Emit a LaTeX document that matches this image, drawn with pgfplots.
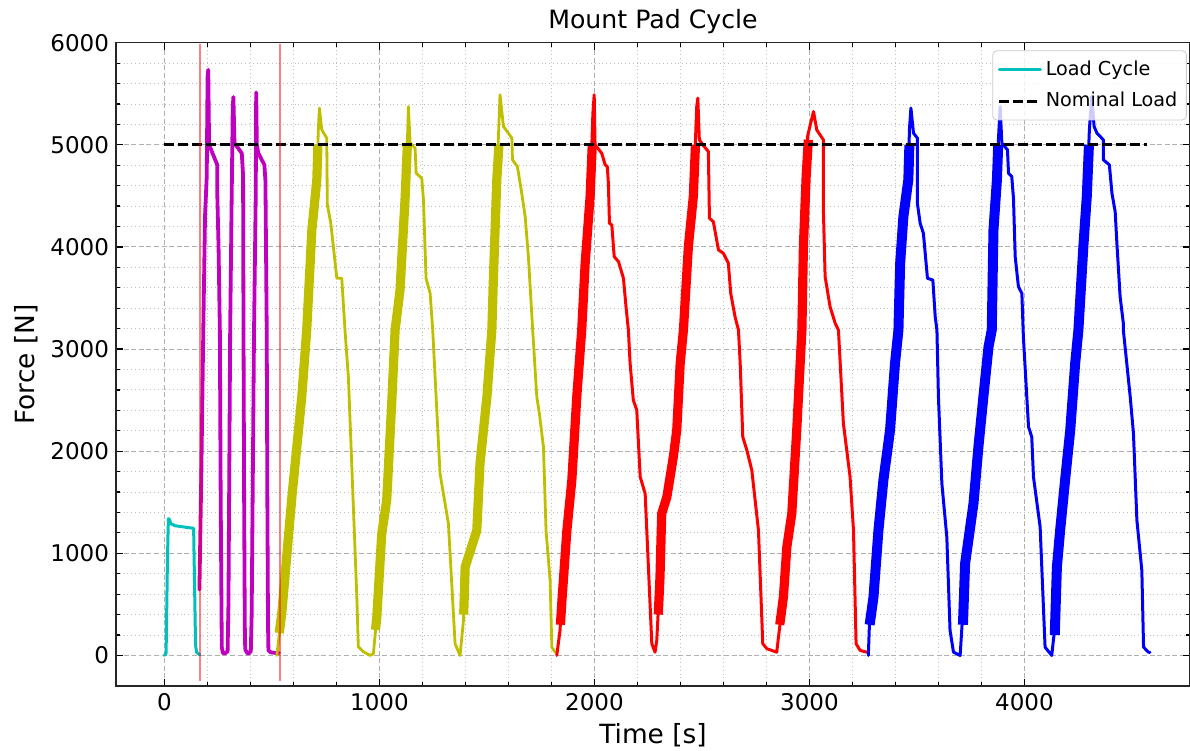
\documentclass[border=0pt]{standalone}
\usepackage{fontspec}
\setmainfont{DejaVu Sans}
\usepackage{pgfplots}
\pgfplotsset{compat=1.18}
\definecolor{mc}{rgb}{0,0.75,0.75}
\definecolor{mm}{rgb}{0.75,0,0.75}
\definecolor{my}{rgb}{0.75,0.75,0}
\definecolor{mr}{rgb}{1,0,0}
\definecolor{mb}{rgb}{0,0,1}
\definecolor{gridc}{RGB}{176,176,176}
\definecolor{legc}{RGB}{204,204,204}
\begin{document}
\begin{tikzpicture}
\begin{axis}[
  name=ax,
  scale only axis,
  width=537pt, height=321.7pt,
  xmin=-225, xmax=4770, ymin=-300, ymax=6000,
  xtick={0,1000,2000,3000,4000},
  ytick={0,1000,2000,3000,4000,5000,6000},
  minor tick num=4,
  grid=both,
  major grid style={gridc, line width=0.5pt, dash pattern=on 2.5pt off 1.3pt},
  minor grid style={gridc!80, line width=0.45pt, dash pattern=on 0.5pt off 1.4pt},
  tick align=inside,
  major tick length=3.5pt, minor tick length=2pt,
  every tick/.style={black, line width=0.6pt},
  axis line style={line width=0.8pt, black!85},
  tick label style={font=\fontsize{11.5}{13}\selectfont},
  /pgf/number format/assume math mode=true,
  /pgf/number format/1000 sep={},
  scaled ticks=false,
  title={Mount Pad Cycle},
  title style={font=\fontsize{12.6}{14}\selectfont, at={(axis description cs:0.5,1)}, anchor=base, yshift=0.9pt},
  xlabel={Time [s]},
  ylabel={Force [N]},
  xlabel style={font=\fontsize{13.2}{15}\selectfont, at={(axis description cs:0.5,-0.0757)}, anchor=center},
  ylabel style={font=\fontsize{13.2}{15}\selectfont, at={(axis description cs:-0.0833,0.5)}, anchor=center},
  legend cell align=left,
  legend style={at={(rel axis cs:0.997,0.988)}, anchor=north east, draw=legc, rounded corners=2pt,
    fill=white, fill opacity=0.8, text opacity=1, font=\fontsize{9.6}{11}\selectfont,
    inner xsep=2.5pt, inner ysep=3pt, row sep=3pt},
  legend image code/.code={\draw[#1] (0pt,0pt) -- (20.5pt,0pt);},
  every axis plot/.append style={line join=round, line cap=round},
  band/.style={line cap=butt, line join=round, forget plot, line width=4.6pt},
]
% Load cycle (cyan)
\addplot[mc, line width=1.5pt] coordinates {
(0,0)(8,20)(12,600)(14,900)(17,1200)(19,1340)(24,1330)(30,1290)(50,1270)(100,1255)(136,1245)(145,100)(150,30)(165,5)};
\addlegendentry{Load Cycle}
% magenta
\addplot[mm, line width=1.9pt, forget plot] coordinates {
(163,645)(172,1800)(181,3186)(189,4294)(197,4690)(201,5663)(204,5735)(208,5000)(246,4804)(246,4526)(252,4000)(258,3186)(262,1500)(267,81)(272,25)(282,20)(294,40)(298,500)(306,3186)(312,4300)(318,5370)(321,5468)(326,5017)(360,4918)(366,4700)(368,3186)(371,1500)(374,300)(376,59)(385,25)(391,17)(402,40)(406,400)(417,3186)(425,4526)(427,5513)(430,5000)(437,4918)(465,4804)(470,4650)(476,3186)(479,1500)(482,300)(484,49)(495,30)(523,23)(533,25)};
% olive
\addplot[my, line width=1.4pt, forget plot] coordinates {
(523,0)(546,412)(593,1552)(639,2532)(662,3186)(686,4167)(709,4657)(716,5147)(721,5360)(732,5147)(755,5066)(758,4412)(774,4232)(802,3693)(825,3693)(840,3186)(856,2716)(895,575)(902,85)(926,36)(957,0)(972,16)(988,376)(1011,1193)(1034,1520)(1058,2500)(1073,3186)(1096,3578)(1120,4493)(1132,5147)(1135,5375)(1143,5017)(1166,4968)(1171,4722)(1197,4673)(1205,4461)(1217,3693)(1236,3546)(1248,3186)(1282,1781)(1321,1291)(1352,115)(1375,0)(1391,343)(1399,866)(1453,1225)(1468,1879)(1500,2532)(1523,3186)(1530,3676)(1546,4657)(1561,5490)(1577,5180)(1616,5066)(1619,4853)(1642,4787)(1662,4526)(1678,4297)(1693,3905)(1713,3186)(1732,2532)(1744,2370)(1763,2042)(1775,1225)(1794,735)(1802,81)(1817,32)(1825,30)};
\addplot[my, band] coordinates {(534,220)(546,412)(593,1552)(639,2532)(662,3186)(686,4167)(709,4657)(714,5000)};
\addplot[my, band] coordinates {(982,250)(988,376)(1011,1193)(1034,1520)(1058,2500)(1073,3186)(1096,3578)(1120,4493)(1130,5000)};
\addplot[my, band] coordinates {(1392,400)(1399,866)(1453,1225)(1468,1879)(1500,2532)(1523,3186)(1530,3676)(1546,4657)(1556,5000)};
% red
\addplot[mr, line width=1.5pt, forget plot] coordinates {
(1825,0)(1840,245)(1848,507)(1872,1225)(1895,1716)(1918,2532)(1941,3186)(1957,3840)(1980,4493)(1993,5311)(1999,5490)(2003,5000)(2034,4918)(2050,4804)(2060,4787)(2065,4624)(2070,4232)(2081,4216)(2092,3905)(2112,3856)(2135,3693)(2147,3415)(2158,3186)(2166,2860)(2181,2500)(2197,2402)(2213,1748)(2236,1585)(2267,115)(2282,32)(2290,147)(2305,768)(2313,1389)(2337,1552)(2367,1944)(2383,2206)(2399,2860)(2414,3186)(2437,4003)(2460,4493)(2476,5375)(2481,5458)(2488,5049)(2504,5000)(2530,4934)(2535,4281)(2553,4248)(2577,3971)(2600,3938)(2623,3840)(2634,3546)(2654,3317)(2670,3186)(2678,2860)(2690,2140)(2709,2010)(2732,1814)(2763,1225)(2783,115)(2802,66)(2848,32)(2856,179)(2879,572)(2895,1062)(2918,1389)(2941,2206)(2965,3186)(2972,4003)(2991,5081)(3019,5326)(3034,5147)(3065,5049)(3065,4363)(3073,3709)(3096,3415)(3120,3252)(3135,3186)(3158,2272)(3189,1748)(3205,1225)(3217,115)(3236,49)(3267,32)};
\addplot[mr, band] coordinates {(1842,300)(1848,507)(1872,1225)(1895,1716)(1918,2532)(1941,3186)(1957,3840)(1980,4493)(1990,5000)};
\addplot[mr, band] coordinates {(2297,400)(2305,768)(2313,1389)(2337,1552)(2367,1944)(2383,2206)(2399,2860)(2414,3186)(2437,4003)(2460,4493)(2470,5000)};
\addplot[mr, band] coordinates {(2862,300)(2879,572)(2895,1062)(2918,1389)(2941,2206)(2965,3186)(2972,4003)(2985,4700)(2995,5050)};
% blue
\addplot[mb, line width=1.5pt, forget plot] coordinates {
(3274,0)(3282,474)(3298,572)(3321,1225)(3344,1716)(3375,2206)(3398,2860)(3414,3186)(3422,3840)(3437,4297)(3460,4657)(3465,5147)(3472,5360)(3484,5115)(3502,5066)(3502,4428)(3515,4232)(3530,4134)(3549,3693)(3574,3676)(3585,3317)(3593,3186)(3600,2532)(3616,1683)(3639,1160)(3654,245)(3670,32)(3701,0)(3716,507)(3724,899)(3763,1487)(3786,2042)(3809,2532)(3833,3023)(3848,3186)(3856,4167)(3872,4657)(3879,5049)(3887,5375)(3895,5017)(3921,4951)(3926,4722)(3941,4689)(3949,4477)(3957,3905)(3972,3611)(3988,3546)(3995,3121)(4019,2238)(4034,2140)(4042,1748)(4073,1258)(4096,81)(4127,0)(4143,311)(4151,866)(4166,1225)(4189,1716)(4213,2206)(4236,2860)(4251,3186)(4274,4003)(4290,4493)(4302,5147)(4313,5474)(4324,5180)(4337,5115)(4367,5049)(4367,4853)(4395,4804)(4407,4526)(4422,4346)(4430,4036)(4445,3513)(4460,3252)(4460,3186)(4492,2532)(4507,2174)(4523,1324)(4546,833)(4554,81)(4577,32)(4584,30)};
\addplot[mb, band, line width=5pt] coordinates {(3280,300)(3298,572)(3321,1225)(3344,1716)(3375,2206)(3398,2860)(3414,3186)(3422,3840)(3437,4297)(3460,4657)(3465,5000)};
\addplot[mb, band, line width=5pt] coordinates {(3714,300)(3724,899)(3763,1487)(3786,2042)(3809,2532)(3833,3023)(3848,3186)(3856,4167)(3872,4657)(3878,5000)};
\addplot[mb, band, line width=5pt] coordinates {(4141,200)(4151,866)(4166,1225)(4189,1716)(4213,2206)(4236,2860)(4251,3186)(4274,4003)(4290,4493)(4300,5000)};
% nominal load
\addplot[black, line width=1.35pt, dash pattern=on 4.7pt off 2.3pt, line cap=butt] coordinates {(0,5000)(4570,5000)};
\addlegendentry{Nominal Load}
% vertical markers
\addplot[mr, opacity=0.5, line width=0.8pt, forget plot, line cap=butt] coordinates {(166,-250)(166,5990)};
\addplot[mr, opacity=0.5, line width=0.8pt, forget plot, line cap=butt] coordinates {(538,-250)(538,5990)};
\end{axis}
\pgfresetboundingbox
\path[use as bounding box] ([xshift=-58pt,yshift=-32.35pt]ax.south west) rectangle ([yshift=21.35pt]ax.north east);
\end{tikzpicture}
\end{document}
